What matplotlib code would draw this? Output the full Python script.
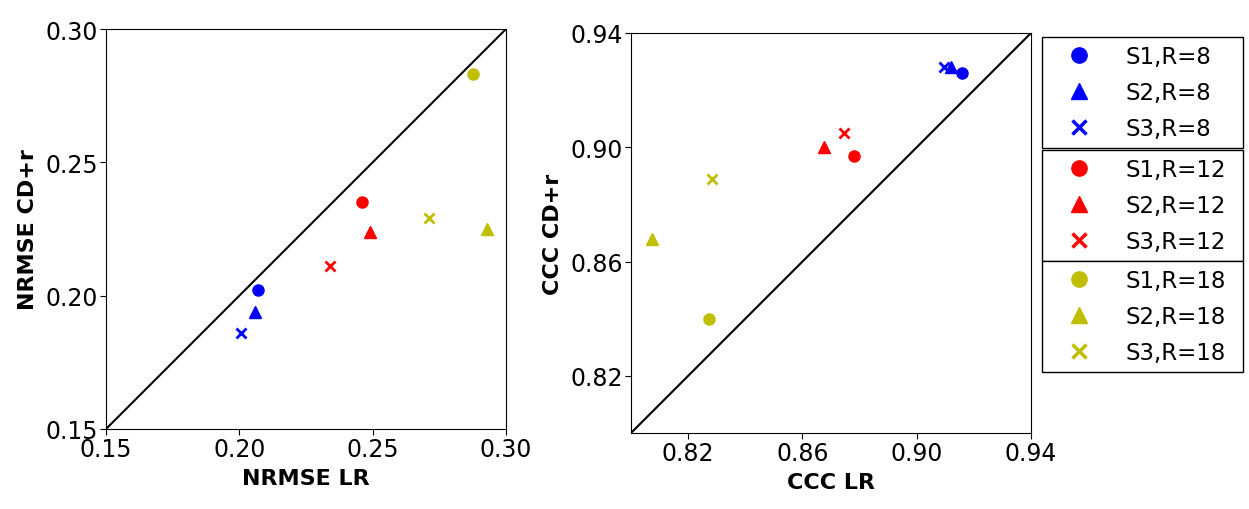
import matplotlib
matplotlib.use("Agg")
import matplotlib.pyplot as plt
from matplotlib.lines import Line2D

labels = ["S1,R=8", "S2,R=8", "S3,R=8",
          "S1,R=12", "S2,R=12", "S3,R=12",
          "S1,R=18", "S2,R=18", "S3,R=18"]
colors = ["b", "b", "b", "r", "r", "r", "y", "y", "y"]
markers = ["o", "^", "x", "o", "^", "x", "o", "^", "x"]

nrmse_lr = [0.207, 0.206, 0.2005, 0.246, 0.249, 0.234, 0.2875, 0.293, 0.271]
nrmse_cd = [0.202, 0.194, 0.186, 0.235, 0.224, 0.211, 0.283, 0.225, 0.229]

ccc_lr = [0.916, 0.912, 0.9095, 0.878, 0.8675, 0.8745, 0.8273, 0.8073, 0.8284]
ccc_cd = [0.926, 0.928, 0.928, 0.897, 0.900, 0.905, 0.840, 0.868, 0.889]

nrmse_ticks = [0.15, 0.20, 0.25, 0.30]
ccc_ticks = [0.82, 0.86, 0.90, 0.94]

W, H = 1249, 510
fig = plt.figure(figsize=(W / 100, H / 100), dpi=100)

ax1 = fig.add_axes([106 / W, 1 - 430 / H, 400 / W, 400 / H])
ax2 = fig.add_axes([631 / W, 1 - 434 / H, 400 / W, 400 / H])

def draw(ax, xs, ys, lim, ticks, xl, yl):
    ax.plot(lim, lim, color="k", lw=1.5, zorder=1)
    for x, y, c, m in zip(xs, ys, colors, markers):
        if m == "x":
            ax.plot(x, y, marker=m, color=c, ms=7, mew=2, ls="none", zorder=3)
        else:
            ax.plot(x, y, marker=m, color=c, ms=8, ls="none", zorder=3)
    ax.set_xlim(lim)
    ax.set_ylim(lim)
    ax.set_xticks(ticks)
    ax.set_yticks(ticks)
    ax.set_xticklabels([f"{t:.2f}" for t in ticks])
    ax.set_yticklabels([f"{t:.2f}" for t in ticks])
    ax.tick_params(labelsize=17, length=4, pad=2)
    ax.set_xlabel(xl, fontsize=16, fontweight="bold", labelpad=5)
    ax.set_ylabel(yl, fontsize=16, fontweight="bold", labelpad=5)

draw(ax1, nrmse_lr, nrmse_cd, (0.15, 0.30), nrmse_ticks, "NRMSE LR", "NRMSE CD+r")
draw(ax2, ccc_lr, ccc_cd, (0.80, 0.94), ccc_ticks, "CCC LR", "CCC CD+r")

tops = [38, 151, 262]
for g in range(3):
    handles = []
    for i in range(3 * g, 3 * g + 3):
        if markers[i] == "x":
            h = Line2D([], [], marker="x", color=colors[i], ls="none", ms=10, mew=2.5)
        else:
            h = Line2D([], [], marker=markers[i], color=colors[i], ls="none", ms=11)
        handles.append(h)
    top = 1 - tops[g] / H
    leg = fig.legend(handles, labels[3 * g:3 * g + 3],
                     loc="upper left",
                     bbox_to_anchor=(1042 / W, top - 0.3, 201 / W, 0.3),
                     mode="expand", borderaxespad=0, fontsize=16.5,
                     fancybox=False, edgecolor="k", framealpha=1,
                     labelspacing=0.58, handletextpad=0.7,
                     borderpad=0.33, handlelength=2.6)
    leg.get_frame().set_linewidth(1.0)

fig.savefig("out.png", dpi=100)
